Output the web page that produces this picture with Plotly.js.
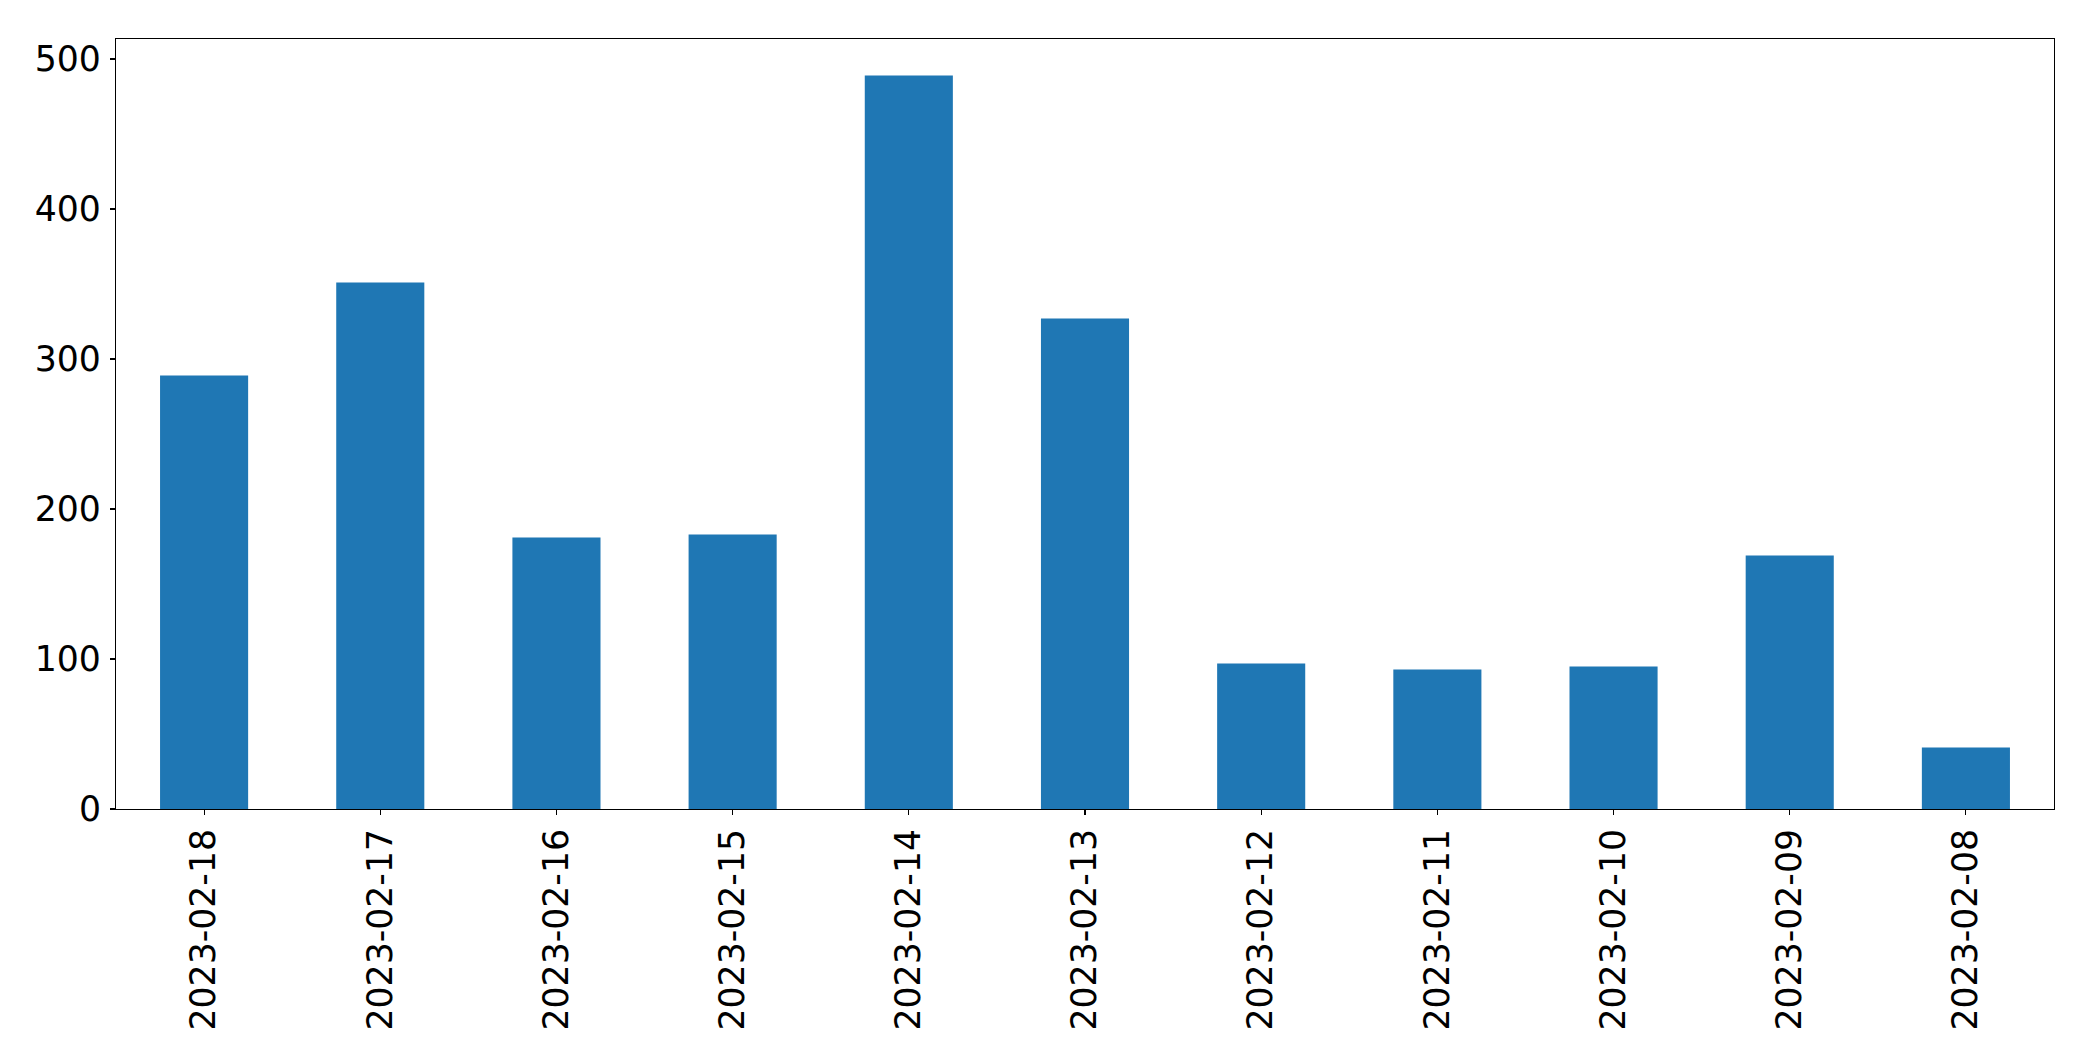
<!DOCTYPE html>
<html>
<head>
<meta charset="utf-8">
<script src="https://cdn.plot.ly/plotly-3.0.1.min.js"></script>
<style>
html,body{margin:0;padding:0;background:#fff;}
#chart{width:2093px;height:1061px;}
</style>
</head>
<body>
<div id="chart"></div>
<script>
const dates = ["2023-02-18","2023-02-17","2023-02-16","2023-02-15","2023-02-14","2023-02-13","2023-02-12","2023-02-11","2023-02-10","2023-02-09","2023-02-08"];
const counts = [289, 351, 181, 183, 489, 327, 97, 93, 95, 169, 41];
const yTicks = [0, 100, 200, 300, 400, 500];

const font = {family: "DejaVu Sans", size: 34.7, color: "#000"};

Plotly.newPlot("chart", [{
  type: "bar",
  x: dates,
  y: counts,
  width: 0.5,
  marker: {color: "#1f77b4", line: {width: 0}},
  hoverinfo: "x+y"
}], {
  width: 2093,
  height: 1061,
  margin: {l: 116, r: 39, t: 39, b: 252},
  paper_bgcolor: "#fff",
  plot_bgcolor: "#fff",
  showlegend: false,
  font: font,
  xaxis: {
    type: "category",
    range: [-0.5, 10.5],
    showline: true, linecolor: "#000", linewidth: 1.1, mirror: true,
    ticks: "outside", ticklen: 5, tickwidth: 1.1, tickcolor: "#000",
    tickangle: -90, tickfont: font,
    showgrid: false, zeroline: false,
    ticklabelstandoff: 0
  },
  yaxis: {
    range: [0, 513.3],
    tickvals: yTicks,
    ticktext: yTicks.map(String),
    showline: true, linecolor: "#000", linewidth: 1.1, mirror: true,
    ticks: "outside", ticklen: 5, tickwidth: 1.1, tickcolor: "#000",
    tickfont: font,
    showgrid: false, zeroline: false,
    ticklabelstandoff: 2
  }
}, {displayModeBar: false, staticPlot: true});
</script>
</body>
</html>
